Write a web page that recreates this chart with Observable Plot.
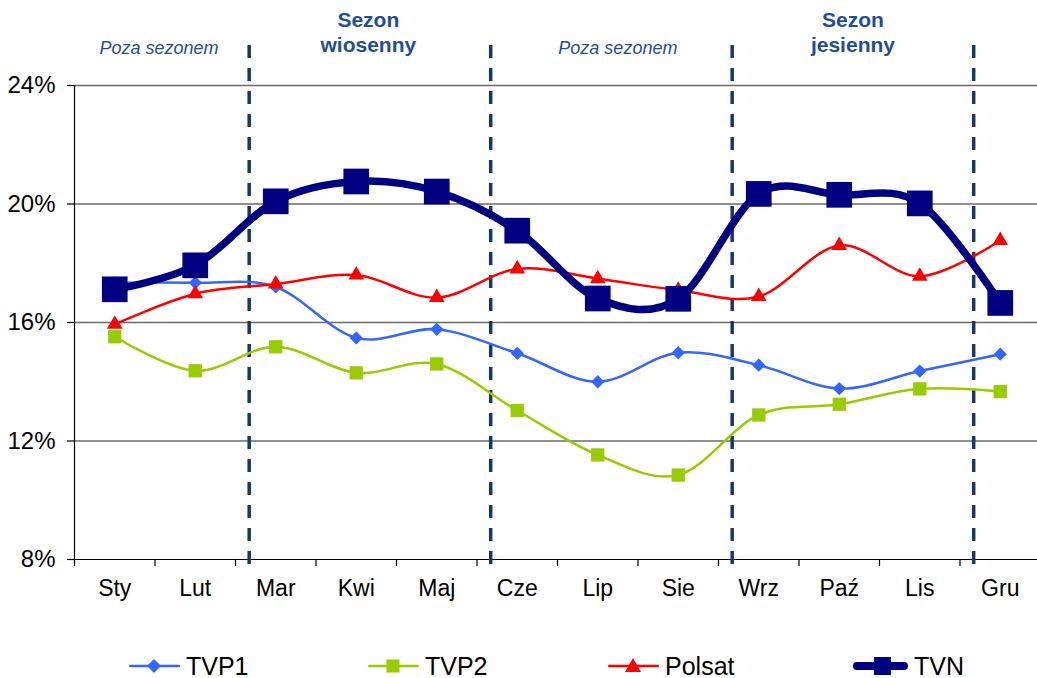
<!DOCTYPE html>
<html>
<head>
<meta charset="utf-8">
<script src="https://cdn.jsdelivr.net/npm/d3@7"></script>
<script src="https://cdn.jsdelivr.net/npm/@observablehq/plot@0.6"></script>
<style>
  html, body { margin: 0; padding: 0; background: #fff; }
  #wrap { position: relative; width: 1037px; height: 678px; overflow: hidden; font-family: "Liberation Sans", Arial, sans-serif; }
  .leg { position: absolute; top: 651px; height: 30px; display: flex; align-items: center; font-size: 25px; color: #000; }
  .leg svg { margin-right: 5px; }
</style>
</head>
<body>
<div id="wrap"></div>
<script>
// ---- data ----
const months = ["Sty","Lut","Mar","Kwi","Maj","Cze","Lip","Sie","Wrz","Paź","Lis","Gru"];
const tvp1   = [17.34,17.34,17.20,15.48,15.77,14.96,14.00,14.98,14.56,13.77,14.36,14.93];
const tvp2   = [15.52,14.37,15.18,14.30,14.60,13.03,11.53,10.85,12.88,13.24,13.76,13.67];
const polsat = [15.94,16.97,17.30,17.60,16.84,17.81,17.48,17.09,16.88,18.60,17.56,18.77];
const tvn    = [17.12,17.93,20.09,20.76,20.42,19.10,16.81,16.80,20.34,20.31,20.02,16.66];
const yTicks = [8, 12, 16, 20, 24];
const seasonDividers = [1.67, 4.67, 7.67, 10.67];
const offSeasonLabels = ["Poza sezonem", "Poza sezonem"];
const offSeasonPos = [0.55, 6.25];
const seasonLabels = ["Sezon\nwiosenny", "Sezon\njesienny"];
const seasonPos = [3.15, 9.17];
const seriesNames = ["TVP1", "TVP2", "Polsat", "TVN"];

// ---- styles ----
const colors = {TVP1: "#3366FF", TVP2: "#99CC00", Polsat: "#FF0000", TVN: "#000080"};
const seasonColor = "#1F4E99";

const rows = (arr) => arr.map((v, i) => ({i, v}));

const chart = Plot.plot({
  width: 1037,
  height: 620,
  marginTop: 85,
  marginBottom: 61,
  marginLeft: 74,
  marginRight: 0,
  x: {domain: [-0.5, 11.5], range: [74, 1040], label: null},
  y: {domain: [8, 24], range: [559, 85], label: null},
  style: {fontFamily: "'Liberation Sans', Arial, sans-serif", fontSize: "23px", color: "#000", background: "#fff", overflow: "visible"},
  marks: [
    Plot.gridY(yTicks.filter(d => d > 8), {stroke: "#6a6a6a", strokeOpacity: 1, strokeWidth: 1.5}),
    Plot.ruleY([yTicks[0]], {stroke: "#000", strokeWidth: 1.2}),
    Plot.frame({anchor: "left", stroke: "#000", strokeWidth: 1.2}),
    Plot.axisY(yTicks, {tickSize: 7, tickPadding: 12, tickFormat: d => d + "%", fontSize: 24, strokeWidth: 1.2, label: null}),
    Plot.axisX(d3.range(months.length).map(i => i - 0.5), {tickSize: 7, tickFormat: () => "", strokeWidth: 1.2, label: null}),
    Plot.axisX(d3.range(months.length), {tickSize: 0, tickPadding: 20, tickFormat: i => months[i], fontSize: 23, label: null}),
    Plot.ruleX(seasonDividers, {x: d => d, stroke: "#13396B", strokeWidth: 3.5, strokeDasharray: "13,10", insetTop: -40, insetBottom: -13}),
    Plot.text(offSeasonLabels, {x: (d, i) => offSeasonPos[i], text: d => d, frameAnchor: "top", lineAnchor: "bottom", dy: -32, fontSize: 18, fontStyle: "italic", fill: seasonColor}),
    Plot.text(seasonLabels, {x: (d, i) => seasonPos[i], text: d => d, frameAnchor: "top", lineAnchor: "bottom", dy: -34, fontSize: 21, fontWeight: "bold", lineHeight: 1.15, fill: seasonColor}),
    // TVP1
    Plot.line(rows(tvp1), {x: "i", y: "v", curve: "cardinal", stroke: colors.TVP1, strokeWidth: 2.5}),
    Plot.dot(rows(tvp1), {x: "i", y: "v", symbol: "diamond2", r: 6, fill: colors.TVP1, stroke: "none"}),
    // TVP2
    Plot.line(rows(tvp2), {x: "i", y: "v", curve: "cardinal", stroke: colors.TVP2, strokeWidth: 2.5}),
    Plot.dot(rows(tvp2), {x: "i", y: "v", symbol: "square", r: 7.5, fill: colors.TVP2, stroke: "none"}),
    // Polsat
    Plot.line(rows(polsat), {x: "i", y: "v", curve: "cardinal", stroke: colors.Polsat, strokeWidth: 2.5}),
    Plot.dot(rows(polsat), {x: "i", y: "v", symbol: "triangle", r: 5.8, fill: colors.Polsat, stroke: "none"}),
    // TVN
    Plot.line(rows(tvn), {x: "i", y: "v", curve: "cardinal", stroke: colors.TVN, strokeWidth: 7.5}),
    Plot.dot(rows(tvn), {x: "i", y: "v", symbol: "square", r: 14.5, fill: colors.TVN, stroke: "none"})
  ]
});

const wrap = document.getElementById("wrap");
wrap.appendChild(chart);

// ---- legend (below the SVG) ----
const legendLeft = [128, 367, 607, 852];
const legendSym = {
  TVP1: '<path d="M26,8 L33,15 L26,22 L19,15 Z" fill="' + colors.TVP1 + '"/>',
  TVP2: '<rect x="19.5" y="8.5" width="13" height="13" fill="' + colors.TVP2 + '"/>',
  Polsat: '<path d="M26,7 L34,21 L18,21 Z" fill="' + colors.Polsat + '"/>',
  TVN: '<rect x="22" y="6" width="17" height="18" fill="' + colors.TVN + '"/>'
};
seriesNames.forEach((name, k) => {
  const w = name === "TVN" ? 57 : 53;
  const sw = name === "TVN" ? 8 : 2.5;
  const item = document.createElement("div");
  item.className = "leg";
  item.style.left = legendLeft[k] + "px";
  item.innerHTML =
    '<svg width="' + w + '" height="30"><line x1="' + (sw/2 + 1) + '" x2="' + (w - sw/2 - 1) + '" y1="15" y2="15" stroke="' + colors[name] +
    '" stroke-width="' + sw + '" stroke-linecap="round"/>' + legendSym[name] + '</svg><span>' + name + '</span>';
  wrap.appendChild(item);
});
</script>
</body>
</html>
